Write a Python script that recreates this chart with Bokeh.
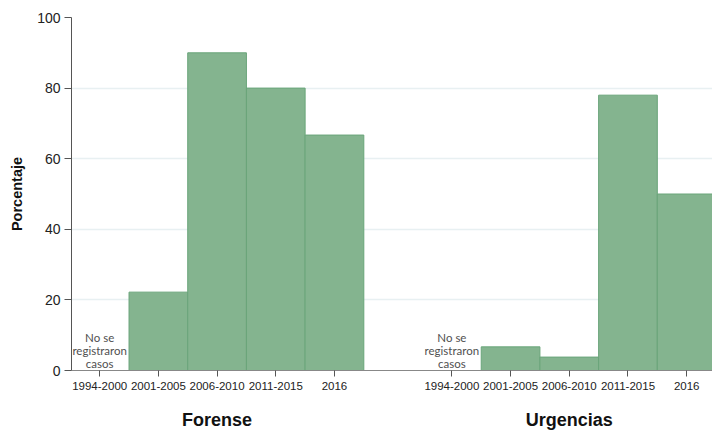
import math
from bokeh.plotting import figure
from bokeh.models import Range1d, LinearAxis, FixedTicker, ColumnDataSource
from bokeh.core.properties import value
from bokeh.embed import file_html
from bokeh.resources import INLINE

# ---- data ----
periods = ["1994-2000", "2001-2005", "2006-2010", "2011-2015", "2016"]
groups = ["Forense", "Urgencias"]
forense = [None, 22.2, 90.0, 80.0, 66.7]
urgencias = [None, 6.7, 3.8, 78.0, 50.0]
no_data_note = "No se\nregistraron\ncasos"

series = [forense, urgencias]
gap = len(periods) + 1

xs, tops, tick_pos, tick_lab, note_x = [], [], [], [], []
for gi, vals in enumerate(series):
    for pi, v in enumerate(vals):
        pos = gi * gap + pi
        tick_pos.append(pos)
        tick_lab.append(periods[pi])
        if v is None:
            note_x.append(pos)
        else:
            xs.append(pos)
            tops.append(v)
group_pos = [gi * gap + (len(periods) - 1) / 2 for gi in range(len(groups))]

src = ColumnDataSource(dict(x=xs, top=tops))

FONT = "Arial"

p = figure(width=712, height=432, output_backend="svg", toolbar_location=None,
           x_range=Range1d(-0.48, 10.44), y_range=Range1d(0, 100),
           min_border_left=71, min_border_right=0, min_border_top=17,
           min_border_bottom=59)
p.outline_line_color = None
p.background_fill_color = "white"

p.vbar(x="x", top="top", bottom=0, width=1.0, source=src,
       fill_color="#84b48f", line_color="#6aa57a", line_width=1)

p.text(x=note_x, y=[0.2] * len(note_x), text=[no_data_note] * len(note_x),
       text_align="center", text_baseline="bottom",
       text_font=value("Lato"), text_font_size="11.5px", text_color="#505050",
       text_line_height=1.0)

# grid
p.xgrid.grid_line_color = None
p.ygrid.grid_line_color = "#e8f0f2"
p.ygrid.grid_line_width = 1.5

# y axis
p.yaxis.ticker = FixedTicker(ticks=[0, 20, 40, 60, 80, 100])
p.yaxis.axis_label = "Porcentaje"
p.yaxis.axis_label_text_font = FONT
p.yaxis.axis_label_text_font_style = "bold"
p.yaxis.axis_label_text_font_size = "14.5px"
p.yaxis.axis_label_text_color = "#111111"
p.yaxis.axis_label_standoff = 9
p.yaxis.major_label_text_font = FONT
p.yaxis.major_label_text_font_size = "14px"
p.yaxis.major_label_text_color = "#222222"
p.yaxis.axis_line_color = "#555555"
p.yaxis.major_tick_line_color = "#555555"
p.yaxis.major_tick_out = 7
p.yaxis.major_tick_in = 0
p.yaxis.minor_tick_line_color = None
p.yaxis.major_label_standoff = 4

# x axis (periods)
p.xaxis.ticker = FixedTicker(ticks=tick_pos)
p.xaxis.major_label_overrides = {t: l for t, l in zip(tick_pos, tick_lab)}
p.xaxis.major_label_text_font = FONT
p.xaxis.major_label_text_font_size = "11.5px"
p.xaxis.major_label_text_color = "#222222"
p.xaxis.axis_line_color = "#888888"
p.xaxis.major_tick_line_color = "#555555"
p.xaxis.major_tick_out = 6
p.xaxis.major_tick_in = 0
p.xaxis.minor_tick_line_color = None
p.xaxis.major_label_standoff = 5

# group axis
gax = LinearAxis(ticker=FixedTicker(ticks=group_pos),
                 major_label_overrides={t: g for t, g in zip(group_pos, groups)})
gax.axis_line_color = None
gax.major_tick_line_color = None
gax.minor_tick_line_color = None
gax.major_label_text_font = FONT
gax.major_label_text_font_style = "bold"
gax.major_label_text_font_size = "18px"
gax.major_label_text_color = "#111111"
gax.major_label_standoff = 11
p.add_layout(gax, "below")

open("out.html", "w").write(file_html(p, INLINE))
